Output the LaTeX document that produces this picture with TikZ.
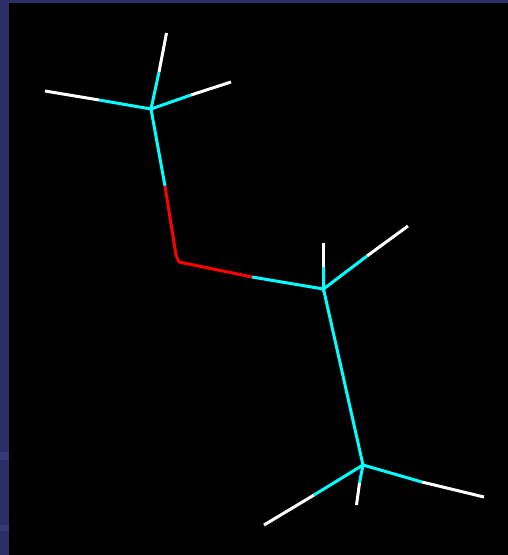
\documentclass[tikz,border=0pt]{standalone}
\definecolor{framenavy}{HTML}{2C3066}
\definecolor{frameband}{HTML}{363A76}
\definecolor{skelcyan}{HTML}{00FFFF}
\definecolor{skelred}{HTML}{FF0000}
\tikzset{
  bone/.style={line width=3pt,line cap=butt,line join=miter,draw=#1},
}
\begin{document}
\begin{tikzpicture}[x=1pt,y=-1pt]
\useasboundingbox (0,0) rectangle (508,555);
% background
\fill[framenavy] (0,0) rectangle (508,555);
\fill[frameband] (0,452) rectangle (9,460);
\fill[frameband] (0,525) rectangle (9,531);
\fill[black] (9,3) rectangle (508,555);
% junctions
\coordinate (hubA) at (151,109);
\coordinate (hubB) at (323.5,289);
\coordinate (hubC) at (363,465);
% hub A branches
\coordinate (aTopEnd) at (166.5,33);
\coordinate (aTopMid) at (159,72);
\coordinate (aLeftEnd) at (45,91);
\coordinate (aLeftMid) at (99,100);
\coordinate (aRightEnd) at (231,82);
\coordinate (aRightMid) at (191,95);
% link A to B
\coordinate (abCyanEnd) at (165,186);
\coordinate (abKneeA) at (176,255);
\coordinate (abKneeB) at (179,262);
\coordinate (abRedEnd) at (252,277);
% hub B branches
\coordinate (bTopEnd) at (323.5,243);
\coordinate (bTopMid) at (323.5,267);
\coordinate (bRightEnd) at (408,226);
\coordinate (bRightMid) at (367,256);
% hub C branches
\coordinate (cRightEnd) at (484,497);
\coordinate (cRightMid) at (422,482);
\coordinate (cLeftEnd) at (264,525);
\coordinate (cLeftMid) at (314,495);
\coordinate (cDownEnd) at (356.5,505);
\coordinate (cDownMid) at (359.5,483);
% white tips
\draw[bone=white] (aTopMid) -- (aTopEnd);
\draw[bone=white] (aLeftMid) -- (aLeftEnd);
\draw[bone=white] (aRightMid) -- (aRightEnd);
\draw[bone=white] (bTopMid) -- (bTopEnd);
\draw[bone=white] (bRightMid) -- (bRightEnd);
\draw[bone=white] (cRightMid) -- (cRightEnd);
\draw[bone=white] (cLeftMid) -- (cLeftEnd);
\draw[bone=white] (cDownMid) -- (cDownEnd);
% cyan inner branches
\draw[bone=skelcyan] (aTopMid) -- (hubA) -- (abCyanEnd);
\draw[bone=skelcyan] (aLeftMid) -- (hubA) -- (aRightMid);
\draw[bone=skelcyan] (abRedEnd) -- (hubB) -- (hubC);
\draw[bone=skelcyan] (bTopMid) -- (hubB) -- (bRightMid);
\draw[bone=skelcyan] (cRightMid) -- (hubC) -- (cLeftMid);
\draw[bone=skelcyan] (hubC) -- (cDownMid);
% red section
\draw[bone=skelred] (abCyanEnd) -- (abKneeA) -- (abKneeB) -- (abRedEnd);
\end{tikzpicture}
\end{document}
